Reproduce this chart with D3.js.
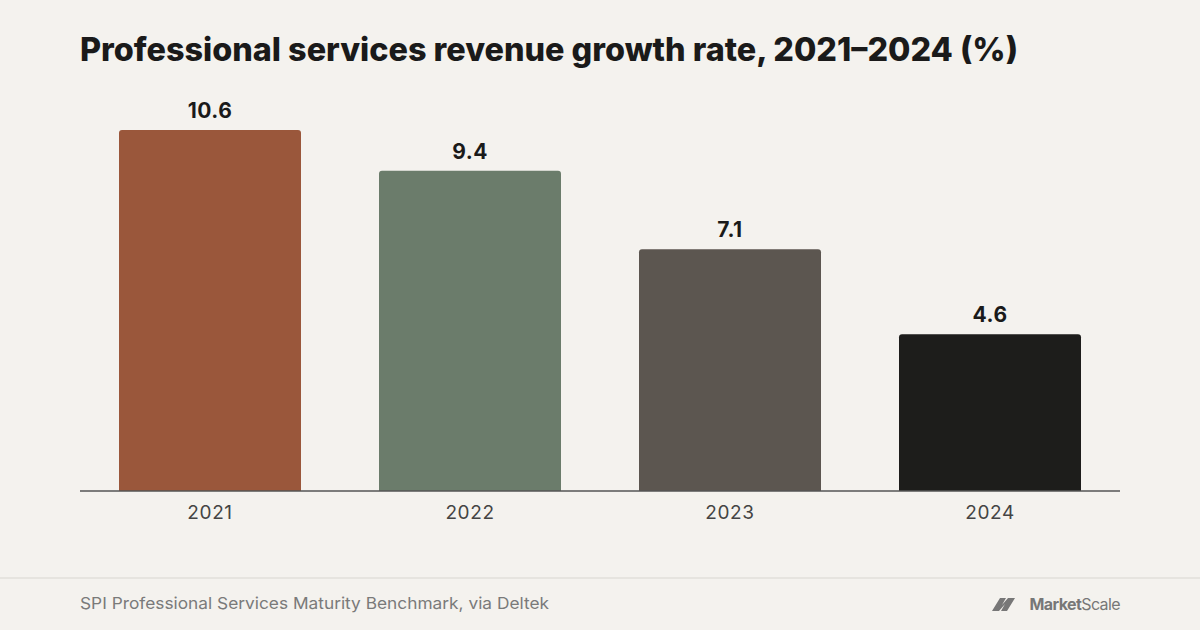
<!DOCTYPE html>
<html><head><meta charset="utf-8">
<script src="https://cdn.jsdelivr.net/npm/d3@7"></script>
<style>body{margin:0;background:#f4f2ee;}svg{display:block;font-family:Inter,"Noto Sans",sans-serif;}</style>
</head><body><svg id="c" width="1200" height="630"></svg>
<script>
const categories=["2021","2022","2023","2024"];
const values=[10.6,9.4,7.1,4.6];
const colors=["#9a573b","#6b7c6b","#5c5650","#1d1d1b"];
const svg=d3.select("#c");
svg.append("rect").attr("width",1200).attr("height",630).attr("fill","#f4f2ee");
svg.append("text").attr("x",80).attr("y",61).attr("font-size",32).attr("font-weight",800).attr("fill","#1a1a1a").attr("textLength",938).attr("lengthAdjust","spacingAndGlyphs")
 .text("Professional services revenue growth rate, 2021–2024 (%)");
const x=d3.scaleBand().domain(categories).range([80,1120]).paddingInner(0.3).paddingOuter(0.15);
const y=d3.scaleLinear().domain([0,10.6]).range([491,130]);
const g=svg.append("g");
g.selectAll("path.bar").data(values).join("path").attr("fill",(d,i)=>colors[i])
 .attr("d",(d,i)=>{const x0=x(categories[i]),w=x.bandwidth(),t=y(d),b=y(0),r=3;
   return `M${x0},${b}V${t+r}Q${x0},${t} ${x0+r},${t}H${x0+w-r}Q${x0+w},${t} ${x0+w},${t+r}V${b}Z`;});
g.selectAll("text.v").data(values).join("text").attr("x",(d,i)=>x(categories[i])+x.bandwidth()/2).attr("y",d=>y(d)-12)
 .attr("text-anchor","middle").attr("font-size",21).attr("font-weight",700).attr("fill","#1a1a1a").attr("letter-spacing",0.5).text(d=>d.toFixed(1));
const ax=svg.append("g").attr("transform","translate(0,491)").call(d3.axisBottom(x).tickSize(0).tickPadding(15));
ax.select(".domain").attr("stroke","#555").attr("stroke-width",1.5).attr("d","M80,0H1120");
ax.selectAll("text").attr("font-size",19).attr("fill","#444").attr("letter-spacing",0.6).attr("font-family","Inter,sans-serif");
svg.append("line").attr("x1",0).attr("x2",1200).attr("y1",578).attr("y2",578).attr("stroke","#e2dfda").attr("stroke-width",1.5);
svg.append("text").attr("x",80).attr("y",609).attr("font-size",16.5).attr("fill","#7a7a7a").attr("textLength",469).attr("lengthAdjust","spacingAndGlyphs").text("SPI Professional Services Maturity Benchmark, via Deltek");
const lg=svg.append("g");
lg.append("path").attr("d","M992,611L1000,598H1006L1002,605L1008,598H1015L1007,611H1001L1005,604L999,611Z").attr("fill","#777");
lg.append("text").attr("x",1120).attr("y",610).attr("text-anchor","end").attr("font-size",16).attr("fill","#777").attr("letter-spacing",-0.6)
 .html('<tspan font-weight="700">Market</tspan>Scale');
</script></body></html>
